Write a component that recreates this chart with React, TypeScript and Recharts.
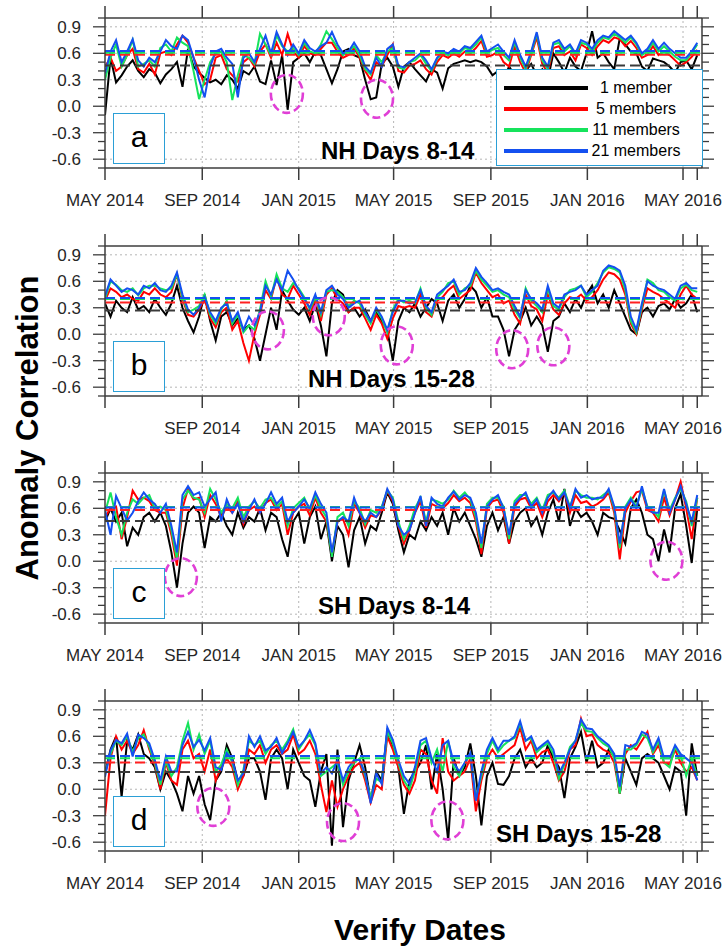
import React from 'react';
import { LineChart, Line, XAxis, YAxis, ReferenceLine, ReferenceDot } from 'recharts';

// Verify dates, as days after 1 May 2014 (weekly)
const verifyDays = [
  0, 7, 14, 21, 28, 35, 42, 49, 56, 63, 70, 77,
  84, 91, 98, 105, 112, 119, 126, 133, 140, 147, 154, 161,
  168, 175, 182, 189, 196, 203, 210, 217, 224, 231, 238, 245,
  252, 259, 266, 273, 280, 287, 294, 301, 308, 315, 322, 329,
  336, 343, 350, 357, 364, 371, 378, 385, 392, 399, 406, 413,
  420, 427, 434, 441, 448, 455, 462, 469, 476, 483, 490, 497,
  504, 511, 518, 525, 532, 539, 546, 553, 560, 567, 574, 581,
  588, 595, 602, 609, 616, 623, 630, 637, 644, 651, 658, 665,
  672, 679, 686, 693, 700, 707, 714, 721, 728, 735, 742, 749,
];

const monthTickDays = [0, 123, 245, 365, 488, 610, 731];
const monthTickLabels = ['MAY 2014', 'SEP 2014', 'JAN 2015', 'MAY 2015', 'SEP 2015', 'JAN 2016', 'MAY 2016'];
const lastDay = 749;
const yTicks = [-0.7, -0.6, -0.5, -0.4, -0.3, -0.2, -0.1, 0, 0.1, 0.2, 0.3, 0.4, 0.5, 0.6, 0.7, 0.8, 0.9, 1.0];
const yMajor = [-0.6, -0.3, 0, 0.3, 0.6, 0.9];
const yMajorLabels = ['-0.6', '-0.3', '0.0', '0.3', '0.6', '0.9'];

const seriesNames = ['1 member', '5 members', '11 members', '21 members'];

// ---- NH Days 8-14 ----
const nh814Black = [
  -0.10, 0.55, 0.27, 0.35, 0.45, 0.52, 0.40, 0.33, 0.42, 0.38, 0.26, 0.36,
  0.42, 0.50, 0.22, 0.65, 0.45, 0.38, 0.32, 0.27, 0.30, 0.25, 0.35, 0.30,
  0.20, 0.40, 0.36, 0.45, 0.28, 0.25, 0.52, 0.24, 0.58, -0.04, 0.50, 0.55,
  0.60, 0.50, 0.62, 0.58, 0.42, 0.26, 0.42, 0.62, 0.65, 0.58, 0.55, 0.30,
  0.08, 0.10, 0.48, 0.55, 0.45, 0.22, 0.45, 0.50, 0.42, 0.35, 0.28, 0.42,
  0.38, 0.20, 0.43, 0.48, 0.50, 0.52, 0.50, 0.52, 0.50, 0.45, 0.35, 0.40,
  0.30, 0.45, 0.35, 0.28, 0.40, 0.48, 0.35, 0.42, 0.30, 0.60, 0.50, 0.38,
  0.55, 0.45, 0.40, 0.60, 0.85, 0.55, 0.60, 0.50, 0.42, 0.77, 0.70, 0.62,
  0.60, 0.45, 0.40, 0.54, 0.52, 0.50, 0.45, 0.38, 0.50, 0.52, 0.42, 0.58,
];
const nh814Red = [
  0.45, 0.55, 0.40, 0.45, 0.58, 0.65, 0.42, 0.38, 0.48, 0.36, 0.60, 0.62,
  0.58, 0.70, 0.80, 0.72, 0.55, 0.40, 0.25, 0.30, 0.55, 0.58, 0.42, 0.35,
  0.28, 0.50, 0.55, 0.45, 0.62, 0.70, 0.55, 0.72, 0.58, 0.82, 0.62, 0.55,
  0.68, 0.60, 0.58, 0.65, 0.72, 0.72, 0.62, 0.55, 0.58, 0.66, 0.55, 0.40,
  0.30, 0.50, 0.45, 0.58, 0.70, 0.40, 0.38, 0.46, 0.48, 0.52, 0.42, 0.36,
  0.50, 0.58, 0.55, 0.60, 0.56, 0.62, 0.60, 0.66, 0.74, 0.56, 0.58, 0.62,
  0.50, 0.45, 0.68, 0.50, 0.38, 0.58, 0.78, 0.48, 0.38, 0.66, 0.68, 0.58,
  0.62, 0.52, 0.70, 0.66, 0.58, 0.68, 0.75, 0.72, 0.78, 0.76, 0.68, 0.74,
  0.66, 0.55, 0.58, 0.68, 0.58, 0.62, 0.58, 0.52, 0.46, 0.50, 0.56, 0.64,
];
const nh814Green = [
  0.30, 0.55, 0.70, 0.45, 0.58, 0.75, 0.45, 0.48, 0.52, 0.45, 0.66, 0.70,
  0.62, 0.78, 0.72, 0.68, 0.40, 0.08, 0.30, 0.50, 0.60, 0.62, 0.50, 0.07,
  0.35, 0.58, 0.55, 0.48, 0.82, 0.70, 0.58, 0.80, 0.68, 0.62, 0.66, 0.58,
  0.72, 0.62, 0.60, 0.70, 0.85, 0.76, 0.66, 0.58, 0.62, 0.68, 0.58, 0.42,
  0.36, 0.58, 0.50, 0.62, 0.66, 0.44, 0.42, 0.50, 0.52, 0.58, 0.48, 0.40,
  0.54, 0.60, 0.58, 0.62, 0.60, 0.66, 0.64, 0.70, 0.78, 0.60, 0.64, 0.66,
  0.58, 0.52, 0.72, 0.55, 0.42, 0.60, 0.82, 0.52, 0.42, 0.70, 0.72, 0.62,
  0.68, 0.58, 0.72, 0.70, 0.62, 0.72, 0.78, 0.76, 0.82, 0.78, 0.72, 0.78,
  0.70, 0.58, 0.62, 0.72, 0.62, 0.68, 0.62, 0.56, 0.52, 0.52, 0.60, 0.70,
];
const nh814Blue = [
  0.37, 0.62, 0.75, 0.50, 0.62, 0.76, 0.52, 0.45, 0.55, 0.50, 0.62, 0.75,
  0.68, 0.65, 0.80, 0.75, 0.55, 0.30, 0.10, 0.45, 0.62, 0.65, 0.55, 0.48,
  0.10, 0.55, 0.60, 0.50, 0.65, 0.80, 0.60, 0.84, 0.70, 0.58, 0.70, 0.60,
  0.75, 0.66, 0.62, 0.68, 0.72, 0.84, 0.70, 0.60, 0.62, 0.72, 0.62, 0.45,
  0.38, 0.55, 0.45, 0.65, 0.70, 0.46, 0.44, 0.50, 0.55, 0.60, 0.52, 0.42,
  0.55, 0.62, 0.60, 0.65, 0.62, 0.68, 0.66, 0.73, 0.80, 0.62, 0.66, 0.70,
  0.62, 0.55, 0.75, 0.58, 0.45, 0.62, 0.84, 0.55, 0.45, 0.72, 0.75, 0.65,
  0.70, 0.60, 0.75, 0.72, 0.65, 0.75, 0.80, 0.78, 0.85, 0.80, 0.75, 0.80,
  0.72, 0.60, 0.65, 0.75, 0.65, 0.72, 0.65, 0.60, 0.55, 0.55, 0.62, 0.72,
];
const nh814Means = [0.462, 0.584, 0.607, 0.626];
const nh814CircleDays = [230, 344];
const nh814CircleVals = [0.14, 0.085];

// ---- NH Days 15-28 ----
const nh1528Black = [
  0.35, 0.20, 0.38, 0.30, 0.25, 0.42, 0.28, 0.32, 0.25, 0.40, 0.30, 0.22,
  0.35, 0.55, 0.30, 0.15, 0.02, 0.20, 0.45, 0.15, -0.07, 0.20, 0.25, 0.10,
  0.18, 0.05, 0.10, -0.05, -0.30, 0.00, 0.30, 0.05, 0.50, 0.38, 0.28, 0.22,
  0.30, 0.15, 0.35, 0.10, -0.25, 0.35, 0.50, 0.45, 0.25, 0.30, 0.20, 0.28,
  0.15, 0.25, 0.15, 0.05, -0.30, 0.15, 0.30, 0.25, 0.35, 0.20, 0.30, 0.40,
  0.35, 0.15, 0.38, 0.45, 0.30, 0.40, 0.55, 0.48, 0.30, 0.42, 0.20, 0.20,
  0.05, -0.25, 0.05, 0.15, 0.30, 0.10, 0.20, 0.10, -0.20, 0.15, 0.20, 0.35,
  0.25, 0.40, 0.30, 0.45, 0.55, 0.35, 0.45, 0.30, 0.50, 0.35, 0.20, 0.05,
  0.00, 0.25, 0.30, 0.20, 0.32, 0.35, 0.28, 0.40, 0.30, 0.35, 0.45, 0.25,
];
const nh1528Red = [
  0.38, 0.52, 0.48, 0.42, 0.45, 0.40, 0.38, 0.48, 0.45, 0.52, 0.45, 0.42,
  0.48, 0.68, 0.40, 0.22, 0.20, 0.28, 0.40, 0.18, 0.08, 0.25, 0.30, 0.05,
  0.15, -0.10, -0.30, 0.00, 0.22, 0.50, 0.40, 0.65, 0.45, 0.40, 0.55, 0.45,
  0.35, 0.22, 0.40, 0.15, 0.45, 0.52, 0.40, 0.35, 0.25, 0.30, 0.30, 0.18,
  0.05, 0.22, 0.12, -0.05, 0.18, 0.32, 0.30, 0.32, 0.30, 0.45, 0.25, 0.20,
  0.38, 0.42, 0.50, 0.55, 0.40, 0.45, 0.50, 0.70, 0.58, 0.50, 0.42, 0.45,
  0.35, 0.38, 0.22, 0.12, 0.45, 0.32, 0.28, 0.15, 0.45, 0.28, 0.22, 0.35,
  0.42, 0.40, 0.45, 0.38, 0.42, 0.50, 0.62, 0.70, 0.68, 0.62, 0.45, 0.12,
  0.00, 0.28, 0.52, 0.48, 0.45, 0.40, 0.35, 0.30, 0.45, 0.55, 0.45, 0.40,
];
const nh1528Green = [
  0.40, 0.60, 0.56, 0.50, 0.48, 0.52, 0.44, 0.52, 0.55, 0.55, 0.52, 0.50,
  0.52, 0.68, 0.42, 0.25, 0.28, 0.32, 0.45, 0.22, 0.12, 0.28, 0.38, 0.12,
  0.22, 0.02, 0.10, 0.05, 0.28, 0.60, 0.42, 0.68, 0.52, 0.48, 0.58, 0.52,
  0.42, 0.28, 0.42, 0.22, 0.48, 0.50, 0.48, 0.42, 0.32, 0.38, 0.35, 0.22,
  0.12, 0.28, 0.18, 0.02, 0.28, 0.40, 0.36, 0.38, 0.35, 0.52, 0.30, 0.22,
  0.42, 0.48, 0.58, 0.60, 0.45, 0.52, 0.55, 0.72, 0.62, 0.55, 0.48, 0.50,
  0.45, 0.42, 0.28, 0.18, 0.52, 0.38, 0.32, 0.25, 0.52, 0.32, 0.28, 0.42,
  0.50, 0.52, 0.55, 0.42, 0.48, 0.58, 0.70, 0.76, 0.74, 0.70, 0.50, 0.15,
  0.02, 0.32, 0.62, 0.58, 0.50, 0.48, 0.42, 0.38, 0.52, 0.56, 0.50, 0.48,
];
const nh1528Blue = [
  0.43, 0.62, 0.55, 0.48, 0.52, 0.50, 0.45, 0.55, 0.52, 0.58, 0.50, 0.48,
  0.55, 0.70, 0.45, 0.28, 0.22, 0.30, 0.42, 0.25, 0.15, 0.30, 0.35, 0.15,
  0.25, 0.05, 0.20, 0.10, 0.25, 0.55, 0.45, 0.62, 0.50, 0.72, 0.62, 0.50,
  0.40, 0.30, 0.45, 0.25, 0.50, 0.55, 0.45, 0.40, 0.30, 0.35, 0.38, 0.25,
  0.15, 0.30, 0.20, 0.05, 0.25, 0.38, 0.38, 0.35, 0.36, 0.50, 0.32, 0.25,
  0.45, 0.50, 0.55, 0.62, 0.48, 0.50, 0.58, 0.75, 0.65, 0.58, 0.50, 0.52,
  0.48, 0.45, 0.32, 0.20, 0.50, 0.40, 0.35, 0.28, 0.55, 0.35, 0.30, 0.45,
  0.48, 0.50, 0.55, 0.45, 0.50, 0.55, 0.72, 0.78, 0.76, 0.72, 0.55, 0.20,
  0.05, 0.35, 0.60, 0.55, 0.52, 0.50, 0.45, 0.40, 0.55, 0.58, 0.52, 0.52,
];
const nh1528Means = [0.27, 0.36, 0.40, 0.41];
const nh1528CircleDays = [206, 283, 369, 515, 567];
const nh1528CircleVals = [0.044, 0.203, -0.126, -0.17, -0.137];

// ---- SH Days 8-14 ----
const sh814Black = [
  0.45, 0.60, 0.45, 0.55, 0.17, 0.38, 0.30, 0.50, 0.55, 0.45, 0.55, 0.40,
  0.10, -0.30, 0.20, 0.55, 0.62, 0.55, 0.15, 0.50, 0.45, 0.55, 0.40, 0.30,
  0.55, 0.38, 0.50, 0.45, 0.60, 0.35, 0.55, 0.50, 0.25, 0.05, 0.45, 0.55,
  0.20, 0.50, 0.62, 0.25, 0.45, 0.00, 0.40, 0.30, -0.07, 0.35, 0.50, 0.20,
  0.40, 0.35, 0.55, 0.78, 0.65, 0.35, 0.10, 0.30, 0.25, 0.45, 0.35, 0.50,
  0.40, 0.55, 0.30, 0.60, 0.45, 0.55, 0.40, 0.25, 0.05, 0.40, 0.55, 0.35,
  0.50, 0.20, 0.45, 0.55, 0.60, 0.40, 0.50, 0.30, 0.55, 0.70, 0.45, 0.82,
  0.40, 0.60, 0.50, 0.55, 0.45, 0.30, 0.55, 0.50, 0.48, 0.35, 0.20, 0.60,
  0.70, 0.55, 0.30, 0.25, 0.00, 0.36, 0.10, 0.60, 0.76, 0.40, -0.02, 0.60,
];
const sh814Red = [
  0.50, 0.60, 0.62, 0.25, 0.50, 0.80, 0.70, 0.72, 0.68, 0.58, 0.55, 0.55,
  0.30, -0.05, 0.60, 0.82, 0.70, 0.72, 0.50, 0.75, 0.65, 0.50, 0.62, 0.55,
  0.68, 0.42, 0.58, 0.62, 0.55, 0.66, 0.70, 0.58, 0.65, 0.30, 0.55, 0.62,
  0.65, 0.52, 0.72, 0.55, 0.45, 0.08, 0.45, 0.48, 0.30, 0.65, 0.55, 0.38,
  0.52, 0.50, 0.58, 0.80, 0.68, 0.40, 0.20, 0.35, 0.55, 0.68, 0.38, 0.65,
  0.62, 0.60, 0.66, 0.75, 0.68, 0.72, 0.66, 0.45, 0.08, 0.60, 0.68, 0.70,
  0.55, 0.20, 0.62, 0.70, 0.72, 0.60, 0.66, 0.50, 0.68, 0.75, 0.68, 0.78,
  0.55, 0.75, 0.66, 0.68, 0.62, 0.65, 0.70, 0.78, 0.55, 0.02, 0.55, 0.68,
  0.78, 0.80, 0.58, 0.55, 0.45, 0.72, 0.52, 0.70, 0.90, 0.60, 0.25, 0.72,
];
const sh814Green = [
  0.55, 0.78, 0.50, 0.30, 0.55, 0.70, 0.65, 0.72, 0.75, 0.60, 0.62, 0.58,
  0.35, 0.02, 0.70, 0.80, 0.72, 0.70, 0.55, 0.82, 0.70, 0.55, 0.65, 0.60,
  0.72, 0.50, 0.62, 0.68, 0.60, 0.70, 0.72, 0.62, 0.68, 0.40, 0.60, 0.66,
  0.72, 0.58, 0.75, 0.60, 0.50, 0.05, 0.50, 0.55, 0.40, 0.68, 0.60, 0.42,
  0.58, 0.55, 0.62, 0.80, 0.72, 0.45, 0.25, 0.40, 0.60, 0.72, 0.45, 0.70,
  0.68, 0.65, 0.70, 0.80, 0.72, 0.78, 0.70, 0.50, 0.15, 0.65, 0.72, 0.72,
  0.62, 0.25, 0.68, 0.75, 0.75, 0.65, 0.72, 0.58, 0.75, 0.78, 0.72, 0.80,
  0.62, 0.80, 0.75, 0.72, 0.72, 0.70, 0.75, 0.80, 0.60, 0.15, 0.62, 0.72,
  0.62, 0.82, 0.62, 0.58, 0.50, 0.80, 0.58, 0.72, 0.82, 0.68, 0.40, 0.72,
];
const sh814Blue = [
  0.58, 0.30, 0.74, 0.60, 0.46, 0.55, 0.68, 0.78, 0.70, 0.65, 0.55, 0.65,
  0.40, 0.10, 0.75, 0.85, 0.75, 0.78, 0.62, 0.70, 0.78, 0.45, 0.70, 0.55,
  0.65, 0.45, 0.58, 0.70, 0.55, 0.65, 0.78, 0.65, 0.72, 0.45, 0.55, 0.62,
  0.70, 0.60, 0.78, 0.65, 0.55, 0.10, 0.45, 0.50, 0.45, 0.72, 0.55, 0.45,
  0.55, 0.50, 0.60, 0.82, 0.70, 0.40, 0.30, 0.35, 0.55, 0.74, 0.40, 0.72,
  0.65, 0.62, 0.72, 0.79, 0.70, 0.75, 0.72, 0.55, 0.20, 0.62, 0.70, 0.75,
  0.60, 0.30, 0.65, 0.72, 0.78, 0.62, 0.70, 0.55, 0.72, 0.80, 0.70, 0.78,
  0.60, 0.82, 0.72, 0.75, 0.70, 0.72, 0.72, 0.82, 0.62, 0.20, 0.60, 0.70,
  0.60, 0.85, 0.60, 0.55, 0.55, 0.82, 0.55, 0.70, 0.85, 0.65, 0.45, 0.75,
];
const sh814Means = [0.455, 0.58, 0.615, 0.608];
const sh814CircleDays = [96, 710];
const sh814CircleVals = [-0.18, 0.006];

// ---- SH Days 15-28 ----
const sh1528Black = [
  0.18, 0.45, 0.60, -0.09, 0.55, 0.45, 0.62, 0.40, 0.35, 0.25, 0.00, 0.20,
  0.10, -0.05, -0.25, 0.15, -0.05, 0.15, -0.17, -0.35, 0.10, 0.20, 0.50, 0.35,
  0.10, 0.15, 0.35, 0.35, 0.20, -0.12, 0.35, 0.45, 0.35, 0.00, 0.45, 0.30,
  0.15, 0.10, -0.20, 0.20, 0.40, -0.64, 0.45, -0.43, 0.10, 0.30, 0.50, 0.25,
  -0.13, 0.20, 0.10, 0.65, 0.50, 0.25, -0.28, 0.10, 0.20, 0.30, 0.50, 0.00,
  0.40, 0.00, -0.58, 0.35, 0.15, 0.25, 0.52, 0.15, -0.41, 0.15, 0.30, 0.06,
  0.05, 0.15, 0.35, 0.45, 0.25, 0.35, 0.25, 0.30, 0.50, 0.35, 0.25, -0.10,
  0.35, 0.48, 0.65, 0.30, 0.55, 0.25, 0.30, 0.45, 0.37, -0.05, 0.35, 0.20,
  0.05, 0.35, 0.40, 0.35, 0.30, 0.15, 0.00, 0.25, 0.20, -0.30, 0.52, 0.15,
];
const sh1528Red = [
  -0.30, 0.35, 0.60, 0.45, 0.55, 0.40, 0.50, 0.67, 0.45, 0.28, 0.00, 0.30,
  0.10, 0.05, 0.45, 0.55, 0.35, 0.40, 0.20, 0.45, 0.10, 0.25, 0.35, 0.25,
  0.00, 0.15, 0.45, 0.40, 0.50, 0.30, 0.45, 0.50, 0.40, 0.45, 0.62, 0.40,
  0.45, 0.55, 0.40, 0.05, -0.26, 0.10, -0.20, 0.00, 0.15, 0.25, 0.30, 0.10,
  -0.15, 0.05, 0.00, 0.60, 0.45, 0.25, 0.05, -0.05, 0.10, 0.45, 0.40, 0.10,
  -0.05, 0.58, 0.20, 0.10, 0.15, 0.20, 0.35, -0.25, 0.10, 0.35, 0.45, 0.35,
  0.40, 0.45, 0.50, 0.70, 0.45, 0.55, 0.35, 0.42, 0.45, 0.30, 0.10, 0.20,
  0.45, 0.50, 0.80, 0.60, 0.62, 0.50, 0.45, 0.42, 0.30, -0.05, 0.40, 0.50,
  0.45, 0.55, 0.65, 0.40, 0.50, 0.30, 0.28, 0.45, 0.30, 0.20, 0.25, 0.10,
];
const sh1528Green = [
  0.18, 0.40, 0.55, 0.50, 0.60, 0.42, 0.58, 0.62, 0.48, 0.30, 0.05, 0.32,
  0.15, 0.25, 0.55, 0.75, 0.45, 0.62, 0.40, 0.55, 0.20, 0.28, 0.45, 0.30,
  0.05, 0.22, 0.55, 0.50, 0.55, 0.40, 0.50, 0.55, 0.45, 0.55, 0.68, 0.45,
  0.55, 0.62, 0.50, 0.15, 0.20, 0.25, 0.30, 0.05, 0.20, 0.30, 0.35, 0.15,
  -0.10, 0.12, 0.08, 0.65, 0.52, 0.30, 0.10, 0.00, 0.20, 0.50, 0.55, 0.30,
  0.45, 0.20, 0.55, 0.25, 0.15, 0.30, 0.40, -0.10, 0.15, 0.40, 0.55, 0.42,
  0.50, 0.55, 0.58, 0.74, 0.55, 0.58, 0.42, 0.48, 0.52, 0.40, 0.12, 0.28,
  0.48, 0.55, 0.75, 0.66, 0.65, 0.58, 0.52, 0.48, 0.35, -0.05, 0.45, 0.45,
  0.50, 0.62, 0.58, 0.42, 0.55, 0.30, 0.25, 0.48, 0.38, 0.15, 0.35, 0.15,
];
const sh1528Blue = [
  0.14, 0.44, 0.56, 0.52, 0.63, 0.37, 0.62, 0.58, 0.52, 0.33, 0.10, 0.37,
  0.20, 0.20, 0.50, 0.65, 0.48, 0.56, 0.44, 0.58, 0.25, 0.22, 0.41, 0.33,
  0.10, 0.18, 0.60, 0.48, 0.60, 0.44, 0.48, 0.58, 0.41, 0.52, 0.65, 0.48,
  0.55, 0.67, 0.52, 0.18, 0.25, 0.18, 0.33, 0.10, 0.25, 0.33, 0.33, 0.18,
  -0.16, 0.18, 0.06, 0.70, 0.56, 0.33, 0.15, 0.06, 0.25, 0.55, 0.58, 0.35,
  0.20, 0.50, 0.55, 0.30, 0.20, 0.30, 0.41, -0.13, 0.20, 0.45, 0.58, 0.45,
  0.55, 0.55, 0.60, 0.77, 0.55, 0.60, 0.45, 0.50, 0.55, 0.45, 0.18, 0.30,
  0.45, 0.55, 0.79, 0.69, 0.68, 0.60, 0.55, 0.50, 0.40, 0.03, 0.50, 0.48,
  0.52, 0.65, 0.62, 0.45, 0.58, 0.35, 0.35, 0.50, 0.40, 0.35, 0.30, 0.10,
];
const sh1528Means = [0.194, 0.304, 0.35, 0.376];
const sh1528CircleDays = [137, 301, 433];
const sh1528CircleVals = [-0.2, -0.372, -0.353];

const COLORS = ['#000000', '#ff0000', '#16e35c', '#1450f0'];
const MEAN_COLORS = ['#3a3a3a', '#ff2020', '#16e35c', '#1450f0'];
const FRAME = '#3c3c3c';
const GRID = '#b5b5b5';
const FONT = '"Liberation Sans", Arial, Helvetica, sans-serif';
const BOX_BORDER = '#2b9fd6';
const CIRCLE = '#e03fd6';

type PanelSpec = {
  top: number;
  letter: string;
  title: string;
  titleLeft: number;
  series: number[][];
  means: number[];
  circleDays: number[];
  circleVals: number[];
  hideFirstLabel: boolean;
};

const panels: PanelSpec[] = [
  { top: 18, letter: 'a', title: 'NH Days 8-14', titleLeft: 321, series: [nh814Black, nh814Red, nh814Green, nh814Blue], means: nh814Means, circleDays: nh814CircleDays, circleVals: nh814CircleVals, hideFirstLabel: false },
  { top: 246, letter: 'b', title: 'NH Days 15-28', titleLeft: 308, series: [nh1528Black, nh1528Red, nh1528Green, nh1528Blue], means: nh1528Means, circleDays: nh1528CircleDays, circleVals: nh1528CircleVals, hideFirstLabel: true },
  { top: 473, letter: 'c', title: 'SH Days 8-14', titleLeft: 318, series: [sh814Black, sh814Red, sh814Green, sh814Blue], means: sh814Means, circleDays: sh814CircleDays, circleVals: sh814CircleVals, hideFirstLabel: false },
  { top: 701, letter: 'd', title: 'SH Days 15-28', titleLeft: 496, series: [sh1528Black, sh1528Red, sh1528Green, sh1528Blue], means: sh1528Means, circleDays: sh1528CircleDays, circleVals: sh1528CircleVals, hideFirstLabel: false },
];

const seriesKeys = ['m1', 'm5', 'm11', 'm21'];

function isMajor(v: number) {
  return yMajor.some((m) => Math.abs(m - v) < 1e-6);
}

function majorLabel(v: number) {
  const idx = yMajor.findIndex((m) => Math.abs(m - v) < 1e-6);
  return idx >= 0 ? yMajorLabels[idx] : '';
}

const PLOT_OFFSET = 30;
const PLOT_H = 150;
const CHART_H = 230;

function Panel({ spec }: { spec: PanelSpec }) {
  const rows = verifyDays.map((d, i) => ({
    day: d,
    m1: spec.series[0][i],
    m5: spec.series[1][i],
    m11: spec.series[2][i],
    m21: spec.series[3][i],
  }));

  const bottomTick = (p: any) => {
    const v = p.payload.value;
    const idx = monthTickDays.indexOf(v);
    const showLabel = idx >= 0 && !(spec.hideFirstLabel && idx === 0);
    return (
      <g>
        <line x1={p.x} x2={p.x} y1={p.y} y2={p.y + 12} stroke={FRAME} strokeWidth={1.5} />
        {showLabel && (
          <text x={p.x} y={p.y + 38} textAnchor="middle" fontSize={17} fontFamily={FONT} fill="#262626">
            {monthTickLabels[idx]}
          </text>
        )}
      </g>
    );
  };
  const topTick = (p: any) => (
    <line x1={p.x} x2={p.x} y1={p.y} y2={p.y - 12} stroke={FRAME} strokeWidth={1.5} />
  );
  const leftTick = (p: any) => {
    const v = p.payload.value;
    const major = isMajor(v);
    return (
      <g>
        <line x1={p.x} x2={p.x - (major ? 12 : 7)} y1={p.y} y2={p.y} stroke={FRAME} strokeWidth={1.3} />
        {major && (
          <text x={p.x - 24} y={p.y + 6} textAnchor="end" fontSize={17} fontFamily={FONT} fill="#262626">
            {majorLabel(v)}
          </text>
        )}
      </g>
    );
  };
  const rightTick = (p: any) => {
    const major = isMajor(p.payload.value);
    return <line x1={p.x} x2={p.x + (major ? 12 : 7)} y1={p.y} y2={p.y} stroke={FRAME} strokeWidth={1.3} />;
  };

  return (
    <div style={{ position: 'absolute', left: 0, top: spec.top - PLOT_OFFSET, width: 727, height: CHART_H }}>
      <LineChart width={727} height={CHART_H} data={rows} margin={{ top: 20, right: 0, bottom: 40, left: 0 }}>
        <XAxis
          xAxisId="bottom"
          dataKey="day"
          type="number"
          domain={[0, 755]}
          ticks={[...monthTickDays, lastDay]}
          interval={0}
          allowDataOverflow
          height={10}
          tickSize={0}
          tickMargin={0}
          tickLine={false}
          axisLine={{ stroke: FRAME, strokeWidth: 1.5 }}
          tick={bottomTick}
        />
        <XAxis
          xAxisId="top"
          orientation="top"
          dataKey="day"
          type="number"
          domain={[0, 755]}
          ticks={[...monthTickDays, lastDay]}
          interval={0}
          allowDataOverflow
          height={10}
          tickSize={0}
          tickMargin={0}
          tickLine={false}
          axisLine={{ stroke: FRAME, strokeWidth: 1.5 }}
          tick={topTick}
        />
        <YAxis
          yAxisId="left"
          type="number"
          domain={[-0.7, 1.0]}
          ticks={yTicks}
          interval={0}
          allowDataOverflow
          width={105}
          tickSize={0}
          tickMargin={0}
          tickLine={false}
          axisLine={{ stroke: FRAME, strokeWidth: 1.5 }}
          tick={leftTick}
        />
        <YAxis
          yAxisId="right"
          orientation="right"
          type="number"
          domain={[-0.7, 1.0]}
          ticks={yTicks}
          interval={0}
          allowDataOverflow
          width={25}
          tickSize={0}
          tickMargin={0}
          tickLine={false}
          axisLine={{ stroke: FRAME, strokeWidth: 1.5 }}
          tick={rightTick}
        />
        {yMajor.map((v) => (
          <ReferenceLine key={'gy' + v} xAxisId="bottom" yAxisId="left" y={v} stroke={GRID} strokeWidth={1} strokeDasharray="2 3" />
        ))}
        {monthTickDays.slice(1).map((d) => (
          <ReferenceLine key={'gx' + d} xAxisId="bottom" yAxisId="left" x={d} stroke={GRID} strokeWidth={1} strokeDasharray="2 3" />
        ))}
        {seriesKeys.map((k, s) => (
          <Line
            key={k}
            xAxisId="bottom"
            yAxisId="left"
            type="linear"
            dataKey={k}
            name={seriesNames[s]}
            stroke={COLORS[s]}
            strokeWidth={2}
            dot={false}
            activeDot={false}
            isAnimationActive={false}
          />
        ))}
        {spec.means.map((m, s) => (
          <ReferenceLine key={'mean' + s} xAxisId="bottom" yAxisId="left" y={m} stroke={MEAN_COLORS[s]} strokeWidth={2} strokeDasharray="10 5" />
        ))}
        {spec.circleDays.map((d, j) => (
          <ReferenceDot
            key={'c' + j}
            xAxisId="bottom"
            yAxisId="left"
            x={d}
            y={spec.circleVals[j]}
            r={16}
            shape={(p: any) => (
              <ellipse cx={p.cx} cy={p.cy} rx={16} ry={19} fill="none" stroke={CIRCLE} strokeWidth={2.6} strokeDasharray="8 4" />
            )}
          />
        ))}
      </LineChart>
      {/* panel letter box */}
      <div
        style={{
          position: 'absolute',
          left: 113,
          top: PLOT_OFFSET + 95,
          width: 50,
          height: 49,
          border: `1.5px solid ${BOX_BORDER}`,
          background: '#fff',
          fontFamily: FONT,
          fontSize: 30,
          lineHeight: '46px',
          textAlign: 'center',
          color: '#000',
        }}
      >
        {spec.letter}
      </div>
      {/* panel title */}
      <div
        style={{
          position: 'absolute',
          left: spec.titleLeft,
          top: PLOT_OFFSET + 119,
          fontFamily: FONT,
          fontSize: 24,
          fontWeight: 'bold',
          lineHeight: '28px',
          whiteSpace: 'nowrap',
          color: '#000',
        }}
      >
        {spec.title}
      </div>
    </div>
  );
}

function LegendBox() {
  return (
    <div
      style={{
        position: 'absolute',
        left: 496,
        top: 69,
        width: 205,
        height: 95,
        border: `1.5px solid ${BOX_BORDER}`,
        background: '#fff',
        fontFamily: FONT,
      }}
    >
      {seriesNames.map((n, s) => (
        <div key={n} style={{ position: 'absolute', left: 0, top: 8 + s * 21, width: 205, height: 20 }}>
          <div style={{ position: 'absolute', left: 7, top: 8, width: 84, height: 4, background: COLORS[s] }} />
          <div
            style={{
              position: 'absolute',
              left: 92,
              width: 94,
              top: 0,
              fontSize: 16,
              lineHeight: '20px',
              textAlign: 'center',
              color: '#000',
              whiteSpace: 'nowrap',
            }}
          >
            {n}
          </div>
        </div>
      ))}
    </div>
  );
}

export default function App() {
  return (
    <div
      style={{
        position: 'fixed',
        left: 0,
        top: 0,
        width: 727,
        height: 947,
        background: '#fff',
        overflow: 'hidden',
        fontFamily: FONT,
      }}
    >
      {panels.map((p) => (
        <Panel key={p.letter} spec={p} />
      ))}
      <LegendBox />
      <div
        style={{
          position: 'absolute',
          left: 28 - 200,
          top: 428 - 18,
          width: 400,
          height: 36,
          lineHeight: '36px',
          textAlign: 'center',
          fontSize: 31,
          fontWeight: 'bold',
          color: '#000',
          transform: 'rotate(-90deg)',
          whiteSpace: 'nowrap',
        }}
      >
        Anomaly Correlation
      </div>
      <div
        style={{
          position: 'absolute',
          left: 220,
          top: 930 - 18,
          width: 400,
          height: 36,
          lineHeight: '36px',
          textAlign: 'center',
          fontSize: 30,
          fontWeight: 'bold',
          color: '#000',
        }}
      >
        Verify Dates
      </div>
    </div>
  );
}
